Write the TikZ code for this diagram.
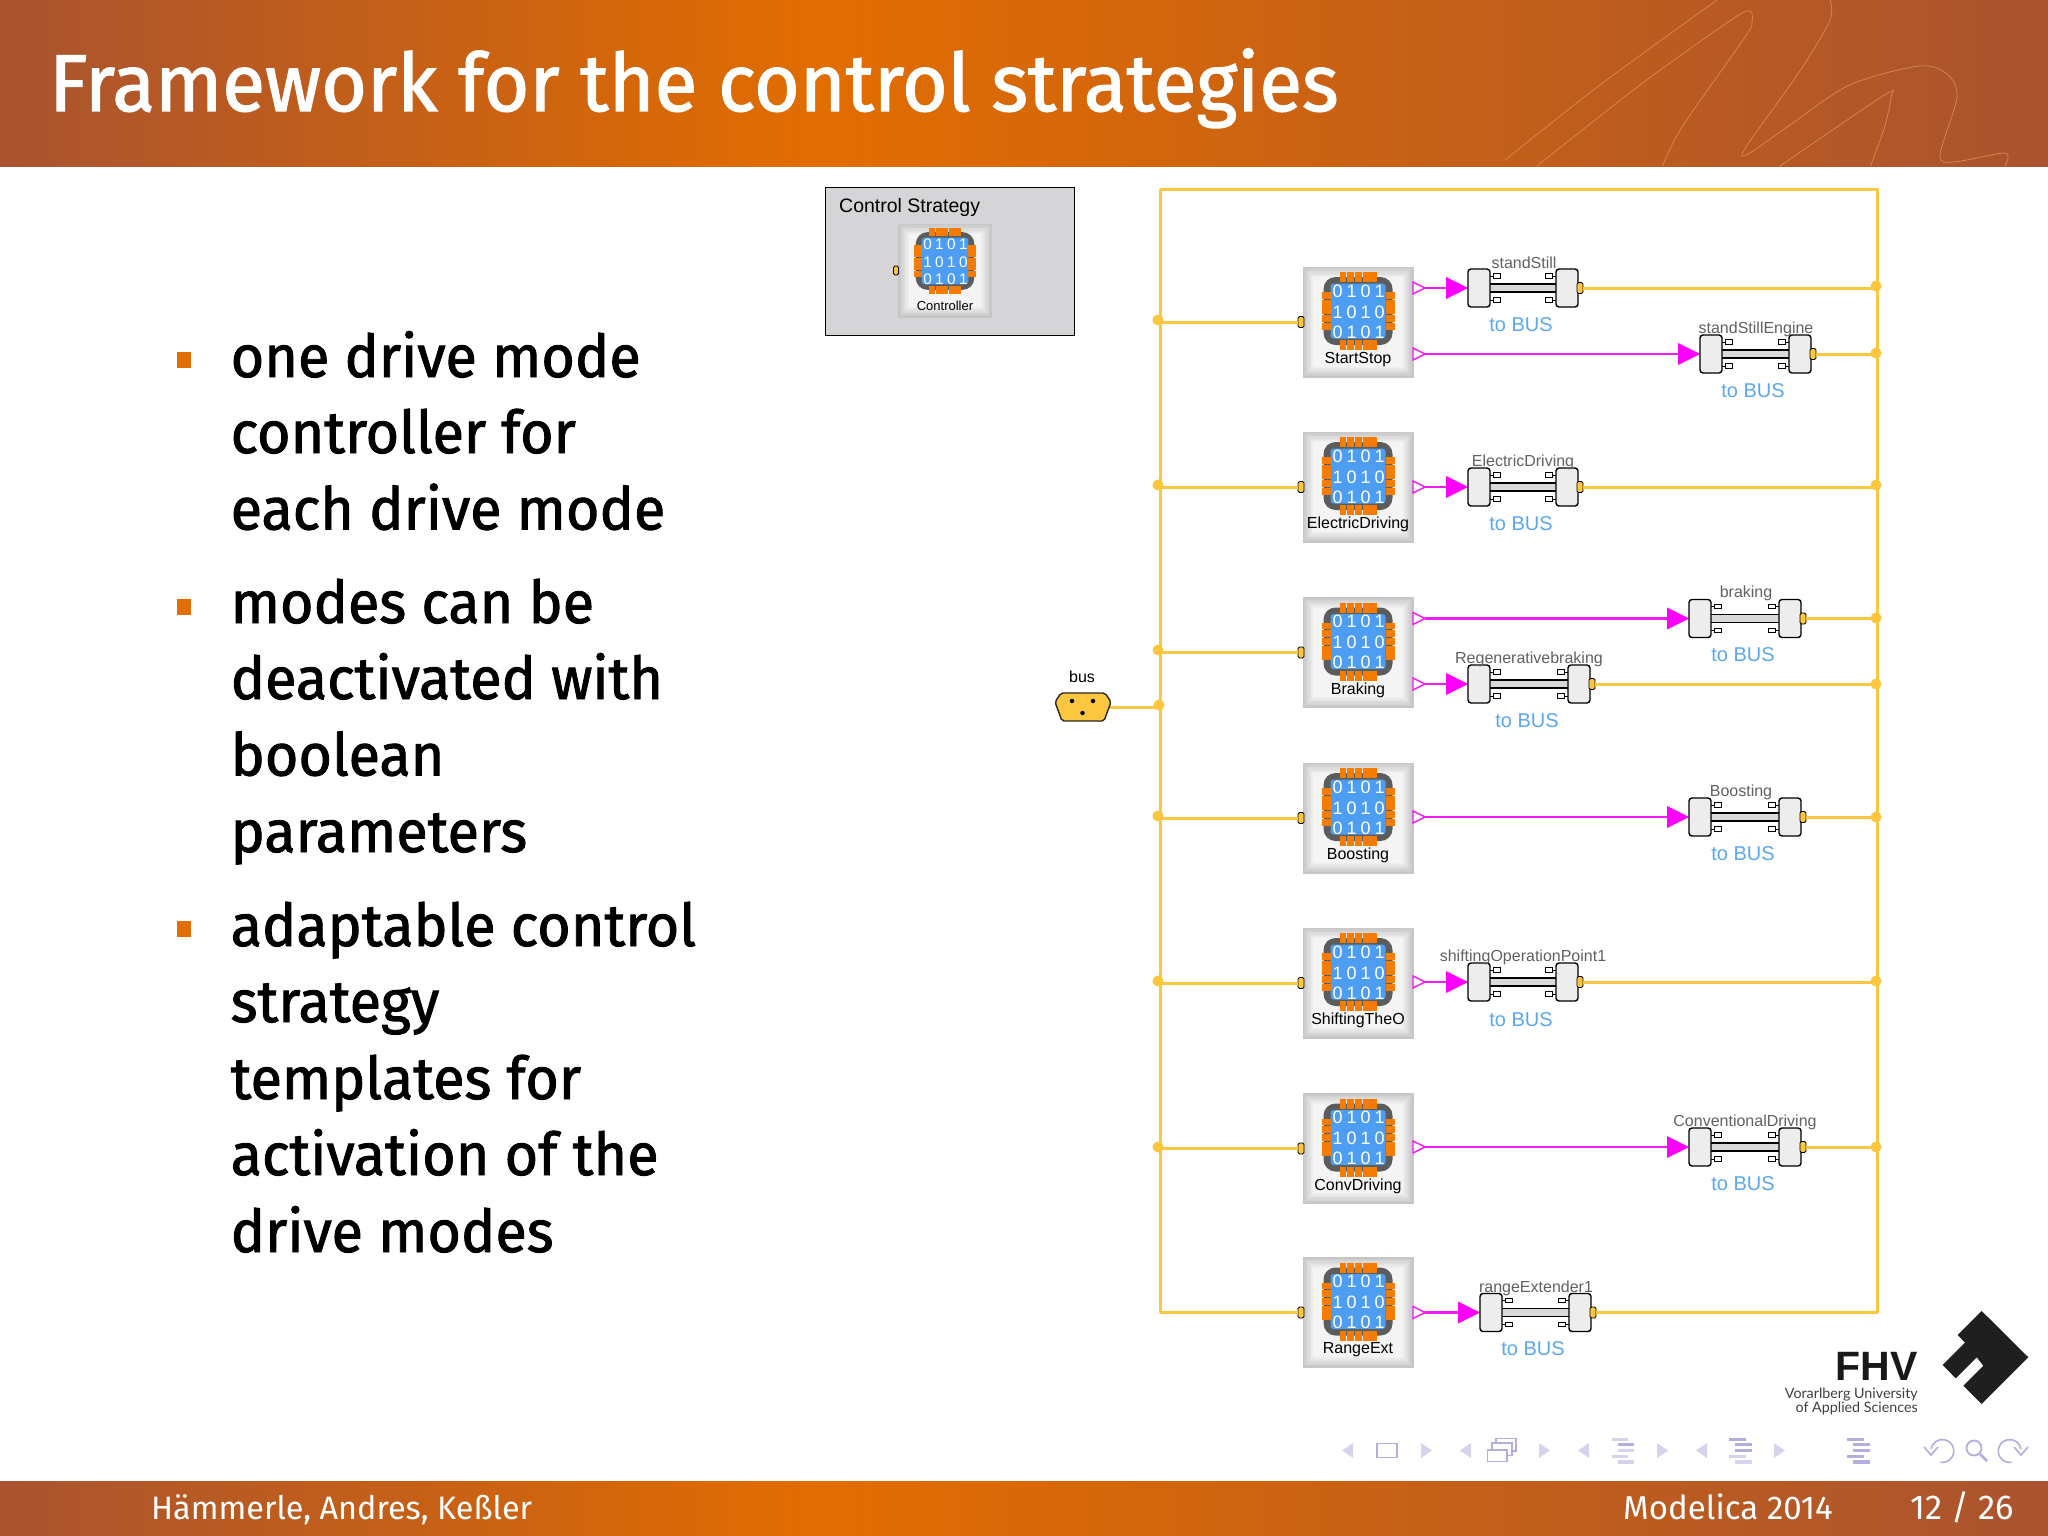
\documentclass[tikz,border=0pt]{standalone}
\usepackage{fontspec}
\setmainfont{Fira Sans}
\newfontfamily\titlefont[FakeStretch=0.975,FakeBold=1.5]{Fira Sans}
\newfontfamily\bodyfont[FakeStretch=0.975,FakeBold=1.5]{Fira Sans}
\newfontfamily\arfont{Liberation Sans}
\newfontfamily\latofont{Lato}
\definecolor{hdrL}{HTML}{A9532F}
\definecolor{hdrM}{HTML}{E26D00}
\definecolor{curveC}{HTML}{D98A52}
\definecolor{wireY}{HTML}{FCC63F}
\definecolor{magWire}{HTML}{F01CF0}
\definecolor{magFill}{HTML}{FF00FF}
\definecolor{chipBody}{HTML}{5C5C5C}
\definecolor{chipBlue}{HTML}{4D9DF3}
\definecolor{chipPin}{HTML}{F57C00}
\definecolor{busBlue}{HTML}{5BA8EE}
\definecolor{navL}{HTML}{D6D3EC}
\definecolor{navS}{HTML}{B3AEDD}
\definecolor{bulletC}{HTML}{E26D00}
\definecolor{panelC}{HTML}{D5D5D8}
\newcommand{\fsz}[1]{\fontsize{#1}{#1}\selectfont}
\tikzset{
  ywire/.style={draw=wireY,line width=3pt},
  mwire/.style={draw=magWire,line width=2.4pt},
  hdrcurve/.style={draw=curveC,line width=0.7pt},
  bodytext/.style={anchor=base west,inner sep=0pt,font=\bodyfont\fsz{59}},
  footertext/.style={anchor=base west,inner sep=0pt,text=white,font=\fsz{33}},
  bulletsq/.style={fill=bulletC,inner sep=0pt,minimum width=14pt,minimum height=16pt},
  ctrlbase/.style={draw=black!22,line width=0.8pt,fill=black!23,inner sep=0pt,minimum size=110pt},
  ctrllabel/.style={inner sep=0pt,font=\arfont\fsz{16},text=black},
  digit/.style={inner sep=0pt,text=white,font=\arfont\fsz{18},transform shape},
  chippin/.style={fill=chipPin},
  busport/.style={draw=black,line width=0.9pt,fill=wireY,rounded corners=1.5pt,inner sep=0pt,minimum width=6pt,minimum height=11pt},
  adblock/.style={draw=black,line width=1.4pt,fill=black!7,rounded corners=3pt,inner sep=0pt,minimum width=22pt,minimum height=38pt},
  tinyport/.style={draw=black,line width=0.9pt,fill=white,inner sep=0pt,minimum width=7pt,minimum height=4.5pt},
  adlabel/.style={inner sep=0pt,yshift=-1pt,font=\arfont\fsz{16},text=black!62},
  buslabel/.style={inner sep=0pt,yshift=-1pt,font=\arfont\fsz{20},text=busBlue},
  jdot/.style={circle,fill=wireY,inner sep=0pt,minimum size=11pt},
  navtri/.style={fill=navL},
  navbar/.style={fill=navS},
  navbarL/.style={fill=navL},
  navline/.style={draw=navS,line width=1.6pt},
}
\newcommand{\bevel}[3]{%
  \foreach \k in {1,...,8}{
    \pgfmathsetmacro{\sh}{22-\k*2.2}
    \fill[black!\sh] (#1-#3+\k*1.3,#2-#3+\k*1.3) rectangle (#1+#3-\k*1.3,#2+#3-\k*1.3);
  }}
\newcommand{\chip}[3]{%
  \begin{scope}[shift={(#1,#2)},scale=#3]
    \fill[chipBody,rounded corners=12pt] (-34.5,-34) rectangle (34.5,34);
    \fill[chipBlue,rounded corners=3pt] (-27.5,-27.5) rectangle (27.5,27.5);
    \foreach \i in {0,...,4}{
      \fill[chippin] ({-18.5+\i*7.7},-39) rectangle ++(6.9,10);
      \fill[chippin] ({-18.5+\i*7.7},29) rectangle ++(6.9,10);
      \fill[chippin] (-36.5,{-19+\i*7.7}) rectangle ++(9,6.9);
      \fill[chippin] (27.5,{-19+\i*7.7}) rectangle ++(9,6.9);
    }
    \foreach \x/\a/\b in {-20.5/0/1,-6.5/1/0,7.5/0/1,21.5/1/0}{
      \node[digit] (chipd) at (\x,-20) {\a};
      \node[digit] (chipd) at (\x,1) {\b};
      \node[digit] (chipd) at (\x,21) {\a};
    }
  \end{scope}}
\newcommand{\ctrlbox}[4]{%
  \node[ctrlbase] (#1) at (#2,#3) {};
  \bevel{#2}{#3}{55}
  \chip{#2}{#3-11}{1}
  \node[ctrllabel] (#1-lab) at (#2,#3+37.5) {#4};
  \node[busport] (#1-p) at (#2-55-2,#3) {};}
\newcommand{\outp}[3]{%
  \draw[draw=magWire,line width=1.4pt,fill=white] (#2,#3-6) -- (#2+12,#3) -- (#2,#3+6) -- cycle;
  \coordinate (#1) at (#2+12,#3);}
\newcommand{\adapter}[4]{%
  \fill[magFill] (#2-22,#4-11) -- (#2,#4) -- (#2-22,#4+11) -- cycle;
  \coordinate (#1-t) at (#2-22,#4);
  \fill[black!15] (#2+20,#4-4) rectangle (#3-20,#4+4);
  \draw[black,line width=1.3pt] (#2+20,#4-4) -- (#3-20,#4-4) (#2+20,#4+4) -- (#3-20,#4+4);
  \draw[black,line width=1pt] (#2+20,#4-12) -- (#2+26,#4-12) (#2+20,#4+12) -- (#2+26,#4+12)
     (#3-26,#4-12) -- (#3-20,#4-12) (#3-26,#4+12) -- (#3-20,#4+12);
  \node[tinyport] (#1-a) at (#2+29,#4-12) {};
  \node[tinyport] (#1-b) at (#2+29,#4+12) {};
  \node[tinyport] (#1-c) at (#3-29,#4-12) {};
  \node[tinyport] (#1-d) at (#3-29,#4+12) {};
  \node[adblock] (#1-l) at (#2+11,#4) {};
  \node[adblock] (#1-r) at (#3-11,#4) {};
  \node[busport] (#1-y) at (#3+2,#4) {};}
\newcommand{\navL}[1]{\fill[navtri] (#1,1450.5) -- (#1+11,1443) -- (#1+11,1458) -- cycle;}
\newcommand{\navR}[1]{\fill[navtri] (#1,1443) -- (#1+11,1450.5) -- (#1,1458) -- cycle;}
\begin{document}
\begin{tikzpicture}[x=1pt,y=-1pt]
\useasboundingbox (0,0) rectangle (2048,1536);
\fill[white] (0,0) rectangle (2048,1536);
% header and footer bands
\shade[left color=hdrL,right color=hdrM] (0,0) rectangle (821,166);
\shade[left color=hdrM,right color=hdrL] (820,0) rectangle (2048,166);
\shade[left color=hdrL,right color=hdrM] (0,1481) rectangle (821,1536);
\shade[left color=hdrM,right color=hdrL] (820,1481) rectangle (2048,1536);
\draw[hdrcurve] plot[smooth] coordinates {(1505,160) (1600,85) (1717,0)};
\draw[hdrcurve] plot[smooth] coordinates {(1537,166) (1640,85) (1731,20) (1750,11) (1752,22) (1745,37) (1682,127) (1662.5,166)};
\draw[hdrcurve] plot[smooth] coordinates {(1830,0) (1830,20) (1800.6,70) (1746,147) (1748,154) (1790,125) (1849.5,85) (1919,66) (1947,74) (1957,97) (1940,155) (1954,162) (2005,153) (2005,166)};
\draw[hdrcurve] plot[smooth] coordinates {(1780,166) (1884.5,95) (1891,97) (1884.5,127) (1870.5,166)};
\node[anchor=base west,inner sep=0pt,text=white,font=\titlefont\fsz{80.4}] (title) at (49,111) {Framework for the control strategies};
\node[footertext,font=\fsz{32.4}] (fl) at (151,1519) {Hämmerle, Andres, Keßler};
\node[footertext] (fm) at (1623,1519) {Modelica 2014};
\node[footertext,font=\fsz{34.5}] (fp) at (1910,1519) {12 / 26};
% bullets
\node[bulletsq] (b1) at (184,360) {};
\node[bulletsq] (b2) at (184,606.5) {};
\node[bulletsq] (b3) at (184,929) {};
\node[bodytext] (t1) at (230.5,377) {one drive mode};
\node[bodytext] (t2) at (230.5,453) {controller for};
\node[bodytext] (t3) at (230.5,529.5) {each drive mode};
\node[bodytext] (t4) at (230.5,623) {modes can be};
\node[bodytext] (t5) at (230.5,699) {deactivated with};
\node[bodytext] (t6) at (230.5,775.5) {boolean};
\node[bodytext] (t7) at (230.5,852) {parameters};
\node[bodytext] (t8) at (230.5,946) {adaptable control};
\node[bodytext] (t9) at (230.5,1022) {strategy};
\node[bodytext] (t10) at (230.5,1099) {templates for};
\node[bodytext] (t11) at (230.5,1175) {activation of the};
\node[bodytext] (t12) at (230.5,1252) {drive modes};
% control strategy panel
\node[draw=black,line width=1pt,fill=panelC,inner sep=0pt,minimum width=249pt,minimum height=148pt] (panel) at (949.5,261) {};
\node[anchor=base west,inner sep=0pt,font=\arfont\fsz{19.5},text=black] (ptitle) at (839,212) {Control Strategy};
\node[ctrlbase,minimum size=93pt] (pc) at (945,270.5) {};
\bevel{945}{270.5}{46.5}
\chip{945}{261}{0.85}
\node[ctrllabel,font=\arfont\fsz{13}] (pclab) at (945,305.5) {Controller};
\node[busport,minimum width=5pt,minimum height=9pt] (pcp) at (896,270.5) {};
% frame
\coordinate (ftl) at (1160,189);
\coordinate (fbr) at (1877,1312.5);
\coordinate (fbl) at (1160,1312.5);
\draw[ywire,line join=round] (ftl) rectangle (fbr);
% bus
\node[jdot] (jb) at (1159,705) {};
\draw[ywire] (1105,707) coordinate (busend) -- (busend -| jb);
\fill[wireY,draw=black!85,line width=1.4pt,rounded corners=2pt] (1055,702) -- (1061,693) -- (1105,693) -- (1111,702) -- (1104,721) -- (1062,721) -- cycle;
\node[circle,fill=black,inner sep=0pt,minimum size=4.5pt] (bd1) at (1072,701) {};
\node[circle,fill=black,inner sep=0pt,minimum size=4.5pt] (bd2) at (1093,701) {};
\node[circle,fill=black,inner sep=0pt,minimum size=4.5pt] (bd3) at (1082.5,713) {};
\node[ctrllabel] (buslab) at (1082,677) {bus};
% controllers
\ctrlbox{c1}{1358}{322}{StartStop}
\ctrlbox{c2}{1358}{487}{ElectricDriving}
\ctrlbox{c3}{1358}{652.5}{Braking}
\ctrlbox{c4}{1358}{818}{Boosting}
\ctrlbox{c5}{1358}{983}{ShiftingTheO}
\ctrlbox{c6}{1358}{1148.5}{ConvDriving}
\ctrlbox{c7}{1358}{1312.5}{RangeExt}
% left junctions
\node[jdot] (jl1) at (1158,320) {};
\node[jdot] (jl2) at (1158,485) {};
\node[jdot] (jl3) at (1158,650) {};
\node[jdot] (jl4) at (1158,816) {};
\node[jdot] (jl5) at (1158,981) {};
\node[jdot] (jl6) at (1158,1147) {};
\foreach \n in {1,...,6}{\draw[ywire] (c\n-p) -- (c\n-p -| jl\n);}
\draw[ywire] (c7-p) -- (fbl);
% outputs
\outp{o1}{1413}{288}
\outp{o2}{1413}{354}
\outp{o3}{1413}{487}
\outp{o4}{1413}{618.5}
\outp{o5}{1413}{684}
\outp{o6}{1413}{817}
\outp{o7}{1413}{982}
\outp{o8}{1413}{1147}
\outp{o9}{1413}{1312.5}
% adapters
\adapter{a1}{1468}{1578}{288}
\adapter{a2}{1700}{1811}{354}
\adapter{a3}{1468}{1578}{487}
\adapter{a4}{1689}{1801}{618.5}
\adapter{a5}{1468}{1590}{684}
\adapter{a6}{1689}{1801}{817}
\adapter{a7}{1468}{1578}{982}
\adapter{a8}{1689}{1801}{1147}
\adapter{a9}{1480}{1591}{1312.5}
\foreach \n in {1,...,9}{\draw[mwire] (o\n) -- (a\n-t);}
% right junctions
\node[jdot] (jr1) at (1876,286) {};
\node[jdot] (jr2) at (1876,353) {};
\node[jdot] (jr3) at (1876,485) {};
\node[jdot] (jr4) at (1876,618) {};
\node[jdot] (jr5) at (1876,684) {};
\node[jdot] (jr6) at (1876,817) {};
\node[jdot] (jr7) at (1876,981) {};
\node[jdot] (jr8) at (1876,1147) {};
\foreach \n in {1,...,8}{\draw[ywire] (a\n-y) -- (a\n-y -| jr\n);}
\draw[ywire] (a9-y) -- (fbr);
% adapter labels
\node[adlabel] (l1) at (1524,262) {standStill};
\node[buslabel] (u1) at (1521,324) {to BUS};
\node[adlabel] (l2) at (1756,328) {standStillEngine};
\node[buslabel] (u2) at (1753,390) {to BUS};
\node[adlabel] (l3) at (1523,461) {ElectricDriving};
\node[buslabel] (u3) at (1521,523) {to BUS};
\node[adlabel] (l4) at (1746,592) {braking};
\node[buslabel] (u4) at (1743,654) {to BUS};
\node[adlabel] (l5) at (1529,658) {Regenerativebraking};
\node[buslabel] (u5) at (1527,720) {to BUS};
\node[adlabel] (l6) at (1741,791) {Boosting};
\node[buslabel] (u6) at (1743,853) {to BUS};
\node[adlabel] (l7) at (1523,956) {shiftingOperationPoint1};
\node[buslabel] (u7) at (1521,1019) {to BUS};
\node[adlabel] (l8) at (1745,1121) {ConventionalDriving};
\node[buslabel] (u8) at (1743,1183) {to BUS};
\node[adlabel] (l9) at (1536,1287) {rangeExtender1};
\node[buslabel] (u9) at (1533,1348) {to BUS};
% logo
\fill[black!88] (1981.7,1311) -- (2028.3,1357.3) -- (1981.7,1404) -- (1963.3,1385.7) -- (1983.3,1365.7) -- (1976.7,1357.3) -- (1955.7,1378.3) -- (1942.7,1365) -- (1965,1342.7) -- (1957.7,1335) -- cycle;
\node[anchor=base east,inner sep=0pt,font=\arfont\bfseries\fsz{41},text=black!90] (fhv) at (1918,1380) {FHV};
\node[anchor=base east,inner sep=0pt,font=\latofont\fsz{14.3},text=black!75] (fhv1) at (1918,1398) {Vorarlberg University};
\node[anchor=base east,inner sep=0pt,font=\latofont\fsz{14.3},text=black!75] (fhv2) at (1918,1412) {of Applied Sciences};
% navigation symbols
\navL{1342}
\draw[navline] (1377,1443.5) rectangle (1397,1457.5);
\navR{1421}
\navL{1460}
\draw[navline,fill=white] (1496,1438.5) rectangle (1516,1451);
\draw[navline,fill=white] (1492,1443) rectangle (1512,1455.5);
\draw[navline,fill=white] (1487.5,1450) rectangle (1507,1461.5);
\navR{1539}
\navL{1578}
\fill[navbarL] (1612,1437.5) rectangle (1628,1440.5);
\fill[navbar] (1618,1442.5) rectangle (1634,1446);
\fill[navbarL] (1618,1448.5) rectangle (1634,1452);
\fill[navbarL] (1612,1454.5) rectangle (1628,1457.5);
\fill[navbarL] (1618,1460) rectangle (1634,1463.5);
\navR{1657}
\navL{1696}
\fill[navbar] (1729,1437.5) rectangle (1746,1440.5);
\fill[navbar] (1735,1442.5) rectangle (1752,1446);
\fill[navbar] (1735,1448.5) rectangle (1752,1452);
\fill[navbarL] (1729,1454.5) rectangle (1746,1457.5);
\fill[navbarL] (1735,1460) rectangle (1752,1463.5);
\navR{1774}
\fill[navbar] (1847,1437.5) rectangle (1864,1440.5);
\fill[navbar] (1853,1442.5) rectangle (1870,1446);
\fill[navbar] (1853,1448.5) rectangle (1870,1452);
\fill[navbar] (1847,1454.5) rectangle (1864,1457.5);
\fill[navbar] (1853,1460) rectangle (1870,1463.5);
\draw[navline] (1931,1449) arc[start angle=170,end angle=-100,radius=11.5pt];
\draw[navline] (1924,1447) -- (1931,1455) -- (1938,1447);
\draw[navline,line width=1.8pt] (1974,1448) circle[radius=7.5pt];
\draw[navline,line width=2.6pt] (1980,1454) -- (1987,1461);
\draw[navline] (2021,1449) arc[start angle=10,end angle=280,radius=11.5pt];
\draw[navline] (2014,1447) -- (2021,1455) -- (2028,1447);
\end{tikzpicture}
\end{document}
